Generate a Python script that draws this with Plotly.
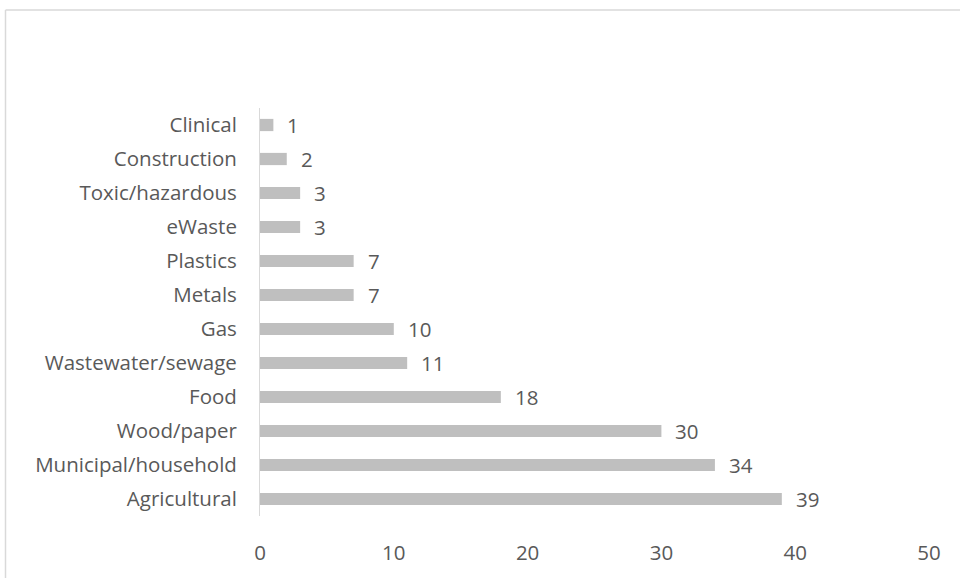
import plotly.graph_objects as go

categories = ["Agricultural", "Municipal/household", "Wood/paper", "Food",
              "Wastewater/sewage", "Gas", "Metals", "Plastics", "eWaste",
              "Toxic/hazardous", "Construction", "Clinical"]
values = [39, 34, 30, 18, 11, 10, 7, 7, 3, 3, 2, 1]
x_ticks = [0, 10, 20, 30, 40, 50]

FONT = "Open Sans"
TXT = "#595959"
FS = 20.5

fig = go.Figure()
fig.add_trace(go.Bar(
    y=categories, x=values, orientation="h",
    marker=dict(color="#bfbfbf", line=dict(width=0)),
    width=0.36, hoverinfo="skip",
))
for c, v in zip(categories, values):
    fig.add_annotation(x=v, y=c, text=str(v), showarrow=False,
                       xanchor="left", xshift=12,
                       font=dict(family=FONT, size=FS, color=TXT))

fig.update_layout(
    width=960, height=578,
    margin=dict(l=260, r=31, t=108, b=56),
    paper_bgcolor="white", plot_bgcolor="white",
    showlegend=False,
    font=dict(family=FONT, size=FS, color=TXT),
    xaxis=dict(range=[0, 50], tickvals=x_ticks, showgrid=False, zeroline=False,
               showline=False, ticks="outside", ticklen=18,
               tickcolor="rgba(0,0,0,0)", tickfont=dict(size=FS, color=TXT)),
    yaxis=dict(range=[-0.5, 11.5], showgrid=False, zeroline=False,
               showline=True, linecolor="#d9d9d9", linewidth=1,
               ticks="outside", ticklen=18, tickcolor="rgba(0,0,0,0)",
               tickfont=dict(size=FS, color=TXT)),
)
pw = 960 - 260 - 31
ph = 578 - 108 - 56
def px_x(px):
    return (px - 260) / pw
def px_y(py):
    return (578 - 56 - py) / ph
fig.add_shape(type="line", xref="paper", yref="paper",
              x0=px_x(5.5), x1=px_x(965), y0=px_y(8.5), y1=px_y(8.5),
              line=dict(color="#d9d9d9", width=1.5))
fig.add_shape(type="line", xref="paper", yref="paper",
              x0=px_x(5.5), x1=px_x(5.5), y0=px_y(8.5), y1=px_y(590),
              line=dict(color="#d9d9d9", width=1.5))

fig.write_html("out.html")
